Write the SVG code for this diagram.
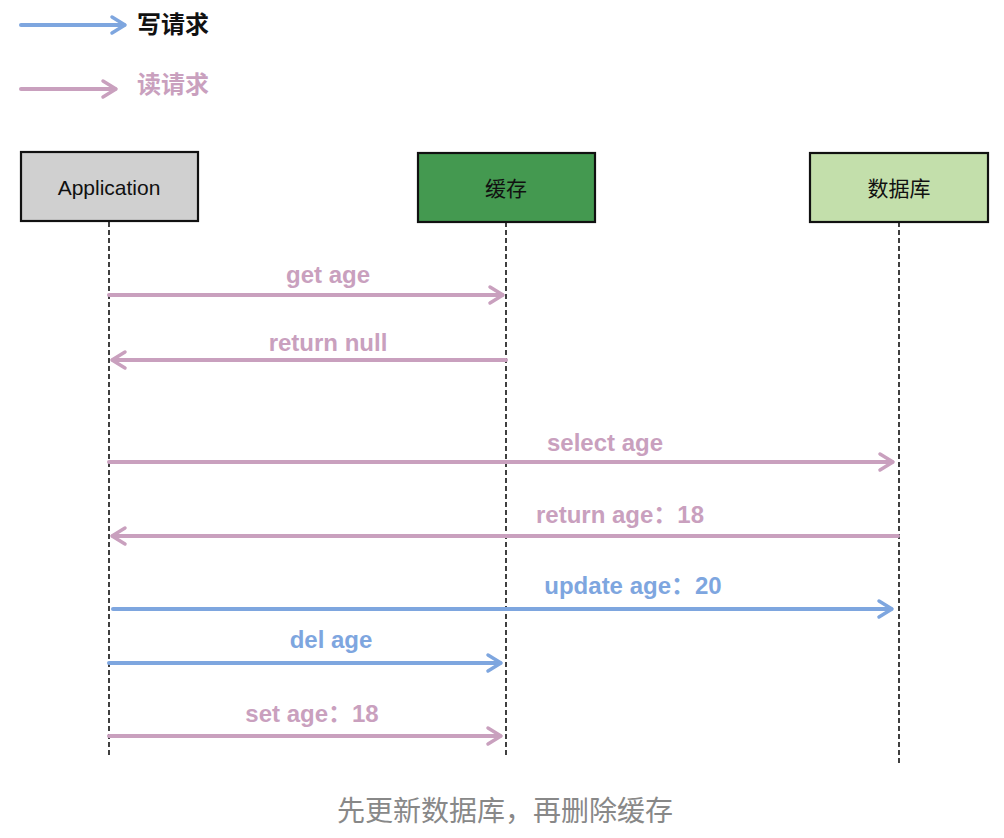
<svg xmlns="http://www.w3.org/2000/svg" width="1004" height="838" viewBox="0 0 1004 838">
<defs>
<style>
.box{stroke:#111;stroke-width:2.2}
.nt{font-family:"Liberation Sans","Noto Sans CJK SC",sans-serif;font-size:21px;fill:#111;text-anchor:middle}
.life{stroke:#111;stroke-width:1.6;stroke-dasharray:5 3;fill:none}
.pk{stroke:#c9a0be;stroke-width:4;fill:none;stroke-linecap:round}
.bl{stroke:#7ea6df;stroke-width:4;fill:none;stroke-linecap:round}
.hp{stroke:#c9a0be;stroke-width:3.5;fill:none;stroke-linecap:round;stroke-linejoin:round}
.hb{stroke:#7ea6df;stroke-width:3.5;fill:none;stroke-linecap:round;stroke-linejoin:round}
.lp{font-family:"Liberation Sans","Noto Sans CJK SC",sans-serif;font-size:24px;font-weight:bold;fill:#c9a0be;text-anchor:middle}
.lb{font-family:"Liberation Sans","Noto Sans CJK SC",sans-serif;font-size:24px;font-weight:bold;fill:#7ea6df;text-anchor:middle}
</style>
</defs>
<rect width="1004" height="838" fill="#fff"/>
<g id="legend">
<line class="bl" x1="21" y1="25" x2="124" y2="25"/>
<path class="hb" d="M112,17 L125,25 L112,33"/>
<text x="137" y="33" font-family="Liberation Sans,Noto Sans CJK SC,sans-serif" font-size="24" font-weight="bold" fill="#111">写请求</text>
<line class="pk" x1="21" y1="89" x2="115" y2="89"/>
<path class="hp" d="M103,81 L116,89 L103,97"/>
<text x="137" y="93" font-family="Liberation Sans,Noto Sans CJK SC,sans-serif" font-size="24" font-weight="bold" fill="#c9a0be">读请求</text>
</g>
<g id="node-application">
<rect class="box" x="21" y="152" width="177" height="69" fill="#d0d0d0"/>
<text class="nt" x="109" y="195">Application</text>
</g>
<g id="node-cache">
<rect class="box" x="418" y="153" width="177" height="69" fill="#449950"/>
<text class="nt" x="506" y="196">缓存</text>
</g>
<g id="node-db">
<rect class="box" x="810" y="153" width="178" height="69" fill="#c3dfab"/>
<text class="nt" x="899" y="196">数据库</text>
</g>
<g id="connectors">
<line class="life" x1="109" y1="222" x2="109" y2="756"/>
<line class="life" x1="506" y1="222" x2="506" y2="756"/>
<line class="life" x1="899" y1="222" x2="899" y2="764"/>

<line class="pk" x1="109" y1="295" x2="502" y2="295"/>
<path class="hp" d="M490,287 L503,295 L490,303"/>
<text class="lp" x="328" y="283">get age</text>

<line class="pk" x1="506" y1="360" x2="113" y2="360"/>
<path class="hp" d="M125,352 L112,360 L125,368"/>
<text class="lp" x="328" y="351">return null</text>

<line class="pk" x1="109" y1="462" x2="892" y2="462"/>
<path class="hp" d="M880,454 L893,462 L880,470"/>
<text class="lp" x="605" y="451">select age</text>

<line class="pk" x1="898" y1="536" x2="113" y2="536"/>
<path class="hp" d="M125,528 L112,536 L125,544"/>
<text class="lp" x="620" y="523">return age：18</text>

<line class="bl" x1="113" y1="609" x2="891" y2="609"/>
<path class="hb" d="M879,601 L892,609 L879,617"/>
<text class="lb" x="633" y="594">update age：20</text>

<line class="bl" x1="109" y1="663" x2="500" y2="663"/>
<path class="hb" d="M488,655 L501,663 L488,671"/>
<text class="lb" x="331" y="648">del age</text>

<line class="pk" x1="109" y1="736" x2="500" y2="736"/>
<path class="hp" d="M488,728 L501,736 L488,744"/>
<text class="lp" x="312" y="722">set age：18</text>
</g>
<text x="505" y="821" font-family="Liberation Sans,Noto Sans CJK SC,sans-serif" font-size="28" fill="#888" text-anchor="middle">先更新数据库，再删除缓存</text>
</svg>
